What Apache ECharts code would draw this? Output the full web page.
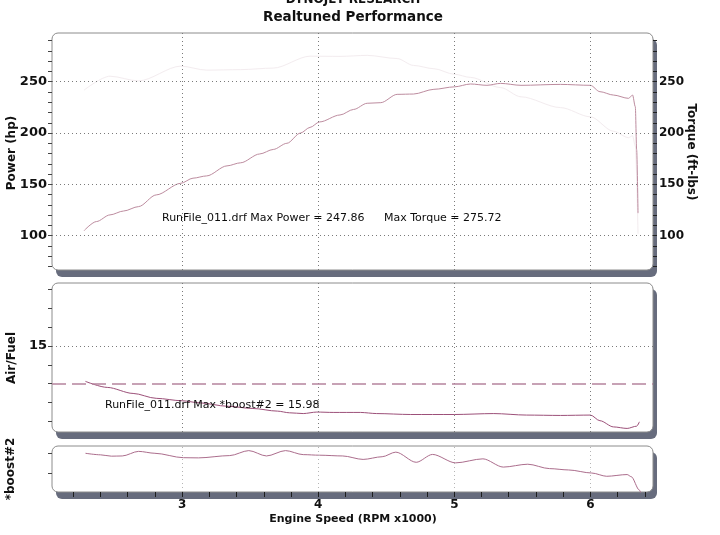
<!DOCTYPE html>
<html>
<head>
<meta charset="utf-8">
<script src="https://cdn.jsdelivr.net/npm/echarts@6/dist/echarts.min.js"></script>
<style>
html,body{margin:0;padding:0;background:#fff;}
#chart{width:720px;height:535px;}
</style>
</head>
<body>
<div id="chart"></div>
<script>
// ---------- data ----------
const titleTop = 'DYNOJET RESEARCH';
const titleMain = 'Realtuned Performance';
const xAxisName = 'Engine Speed (RPM x1000)';
const powerName = 'Power (hp)';
const torqueName = 'Torque (ft-lbs)';
const afrName = 'Air/Fuel';
const boostName = '*boost#2';
const noteMaxPower = 'RunFile_011.drf Max Power = 247.86';
const noteMaxTorque = 'Max Torque = 275.72';
const noteMaxBoost = 'RunFile_011.drf Max *boost#2 = 15.98';

const xLabels = [3, 4, 5, 6];
const xMinorTicks = [2.2,2.4,2.6,2.8,3.0,3.2,3.4,3.6,3.8,4.0,4.2,4.4,4.6,4.8,5.0,5.2,5.4,5.6,5.8,6.0,6.2,6.4];
const powerLabels = [100, 150, 200, 250];
const powerTicks = [70,80,90,100,110,120,130,140,150,160,170,180,190,200,210,220,230,240,250,260,270,280,290];
const afrLabels = [15];
const afrTicks = [11,12,13,14,15,16,17,18];
const afrRef = 13;
const boostTicks = [10, 15];

const powerRpm = [2.28,2.37,2.47,2.57,2.68,2.81,2.99,3.08,3.18,3.33,3.43,3.57,3.67,3.77,3.87,3.94,4.01,4.16,4.26,4.36,4.46,4.58,4.70,4.85,5.00,5.12,5.24,5.34,5.49,5.78,6.00,6.07,6.17,6.28,6.31,6.33,6.34,6.35];
const powerHp  = [104.9,113.7,120.2,124.0,128.3,139.7,151.0,156.0,158.2,168.0,171.0,179.6,184.0,190.0,200.0,205.5,210.8,217.6,223.0,229.0,229.6,237.7,238.0,242.6,245.0,247.8,246.5,248.4,246.5,247.4,246.5,240.3,237.0,233.8,237.0,225.7,183.5,121.9];

const torqueRpm = [2.28,2.47,2.68,2.99,3.18,3.43,3.67,3.94,4.16,4.36,4.58,4.70,4.85,5.00,5.12,5.34,5.49,5.78,6.00,6.17,6.28,6.31,6.33,6.35];
const torqueFt  = [241.9,255.4,250.8,265.2,261.3,261.8,263.3,274.9,274.7,275.7,272.6,265.9,262.7,257.3,254.2,244.3,235.3,224.8,215.8,201.7,195.5,197.3,187.3,101.9];

const afrRpm = [2.29,2.45,2.64,2.81,3.00,3.13,3.33,3.52,3.70,3.79,3.89,3.99,4.11,4.31,4.43,4.68,5.00,5.29,5.53,5.78,6.00,6.07,6.17,6.27,6.34,6.36];
const afrVal = [13.12,12.8,12.48,12.22,12.09,11.98,11.8,11.68,11.54,11.45,11.41,11.49,11.47,11.47,11.41,11.36,11.36,11.41,11.33,11.31,11.33,11.03,10.7,10.62,10.74,10.97];

const boostRpm = [2.29,2.40,2.48,2.56,2.68,2.80,3.01,3.12,3.35,3.49,3.62,3.76,3.89,4.01,4.18,4.33,4.47,4.57,4.72,4.84,5.01,5.21,5.36,5.54,5.70,5.84,6.01,6.12,6.27,6.30,6.36,6.38];
const boostVal = [15.1,14.7,14.35,14.4,15.6,15.1,13.95,13.9,14.5,15.8,14.4,15.8,14.75,14.6,14.4,13.5,14.2,15.4,12.75,14.8,12.6,13.65,11.5,12.25,11.1,10.75,9.95,9.1,9.55,9.0,5.5,3.5];

// ---------- layout ----------
const X_MIN = 2.044, X_MAX = 6.46;
const P_MIN = 66.5, P_MAX = 297.5;
const A_MIN = 10.43, A_MAX = 18.35;
const B_MIN = 5, B_MAX = 17;
const L = 52, W = 601;
const panels = [{top:33,h:237},{top:283,h:149},{top:446,h:46}];
const FONT = 'DejaVu Sans';

const zip = (xs, ys) => xs.map((x, i) => [x, ys[i]]);
const dotted = {type:[1,3], color:'#7a7a7a', width:1};

function xAxisFor(i){
  const last = i === 2;
  return {
    type:'value', gridIndex:i, min:X_MIN, max:X_MAX,
    axisLine:{show:false},
    splitLine:{show:false},
    axisTick:{show:last, customValues:xMinorTicks, inside:false, length:5, lineStyle:{color:'#1e1e1e', width:1}},
    axisLabel:{show:last, customValues:xLabels, margin:7, fontFamily:FONT, fontWeight:'bold', fontSize:12, color:'#111'}
  };
}

const graphics = [];
panels.forEach(p => {
  graphics.push({type:'rect', z:-20, shape:{x:L+4, y:p.top+6, width:W, height:p.h+1, r:6}, style:{fill:'#676c7d'}});
  graphics.push({type:'rect', z:-10, shape:{x:L, y:p.top, width:W, height:p.h, r:6}, style:{fill:'#ffffff', stroke:'#8c8c8c', lineWidth:1}});
});
function txt(t, x, y, size, opts){
  return Object.assign({type:'text', z:10, x:x, y:y, style:{text:t, fontFamily:FONT, fontSize:size, fontWeight:'bold', fill:'#111', align:'center', verticalAlign:'middle'}}, opts||{});
}
graphics.push(txt(titleTop, 353, 0, 12));
graphics.push(txt(titleMain, 353, 17, 13.5));
graphics.push(txt(powerName, 12, 153, 12, {rotation:Math.PI/2}));
graphics.push(txt(torqueName, 691, 152, 12, {rotation:-Math.PI/2}));
graphics.push(txt(afrName, 12, 358, 12, {rotation:Math.PI/2}));
graphics.push(txt(boostName, 11, 469, 12, {rotation:Math.PI/2}));
graphics.push(txt(xAxisName, 353, 519, 11));
function note(t, x, y){
  return {type:'text', z:10, x:x, y:y, style:{text:t, fontFamily:FONT, fontSize:11, fontWeight:'normal', fill:'#0c0c0c', align:'left', verticalAlign:'middle'}};
}
graphics.push(note(noteMaxPower, 162, 218));
graphics.push(note(noteMaxTorque, 384, 218));
graphics.push(note(noteMaxBoost, 105, 405));

const chart = echarts.init(document.getElementById('chart'), null, {renderer:'canvas'});
chart.setOption({
  animation:false,
  backgroundColor:'#ffffff',
  grid: panels.map(p => ({left:L, top:p.top, width:W, height:p.h, show:false})),
  xAxis: [xAxisFor(0), xAxisFor(1), xAxisFor(2)],
  yAxis: [
    {type:'value', gridIndex:0, position:'left', min:P_MIN, max:P_MAX,
      axisLine:{show:false}, splitLine:{show:false},
      axisTick:{show:true, customValues:powerTicks, length:4, lineStyle:{color:'#444'}},
      axisLabel:{customValues:powerLabels, margin:5, fontFamily:FONT, fontWeight:'bold', fontSize:13, color:'#111'}},
    {type:'value', gridIndex:0, position:'right', min:P_MIN, max:P_MAX,
      axisLine:{show:false}, splitLine:{show:false},
      axisTick:{show:true, customValues:powerTicks, length:4, lineStyle:{color:'#222'}},
      axisLabel:{customValues:powerLabels, margin:6, fontFamily:FONT, fontWeight:'bold', fontSize:12, color:'#111'}},
    {type:'value', gridIndex:1, position:'left', min:A_MIN, max:A_MAX,
      axisLine:{show:false}, splitLine:{show:false},
      axisTick:{show:true, customValues:afrTicks, length:4, lineStyle:{color:'#444'}},
      axisLabel:{customValues:afrLabels, margin:5, fontFamily:FONT, fontWeight:'bold', fontSize:13, color:'#111'}},
    {type:'value', gridIndex:2, position:'left', min:B_MIN, max:B_MAX,
      axisLine:{show:false}, splitLine:{show:false},
      axisTick:{show:true, customValues:boostTicks, length:4, lineStyle:{color:'#444'}},
      axisLabel:{show:false}}
  ],
  graphic:{elements:graphics},
  series: [
    {type:'line', name:'Torque', xAxisIndex:0, yAxisIndex:1, data:zip(torqueRpm, torqueFt),
      showSymbol:false, smooth:0.3, smoothMonotone:'x', lineStyle:{color:'#f3ecef', width:1}, z:2},
    {type:'line', name:'Power', xAxisIndex:0, yAxisIndex:0, data:zip(powerRpm, powerHp),
      showSymbol:false, smooth:0.3, smoothMonotone:'x', lineStyle:{color:'#bd8c9f', width:1}, z:3,
      markLine:{silent:true, symbol:['none','none'], label:{show:false}, lineStyle:dotted,
        data:[...xLabels.map(v => ({xAxis:v})), ...powerLabels.map(v => ({yAxis:v}))]}},
    {type:'line', name:'Air/Fuel', xAxisIndex:1, yAxisIndex:2, data:zip(afrRpm, afrVal),
      showSymbol:false, smooth:0.3, smoothMonotone:'x', lineStyle:{color:'#9c5079', width:1}, z:3,
      markLine:{silent:true, symbol:['none','none'], label:{show:false}, lineStyle:dotted,
        data:[...xLabels.map(v => ({xAxis:v})), ...afrLabels.map(v => ({yAxis:v})),
          {yAxis:afrRef, lineStyle:{type:[14,6], color:'#b5849d', width:1.5}}]}},
    {type:'line', name:'boost', xAxisIndex:2, yAxisIndex:3, data:zip(boostRpm, boostVal),
      showSymbol:false, smooth:0.3, smoothMonotone:'x', lineStyle:{color:'#ab6d8c', width:1}, z:3,
      markLine:{silent:true, symbol:['none','none'], label:{show:false}, lineStyle:{type:[1,3], color:'#b5b5b5', width:1},
        data:xLabels.map(v => ({xAxis:v}))}}
  ]
});
</script>
</body>
</html>
